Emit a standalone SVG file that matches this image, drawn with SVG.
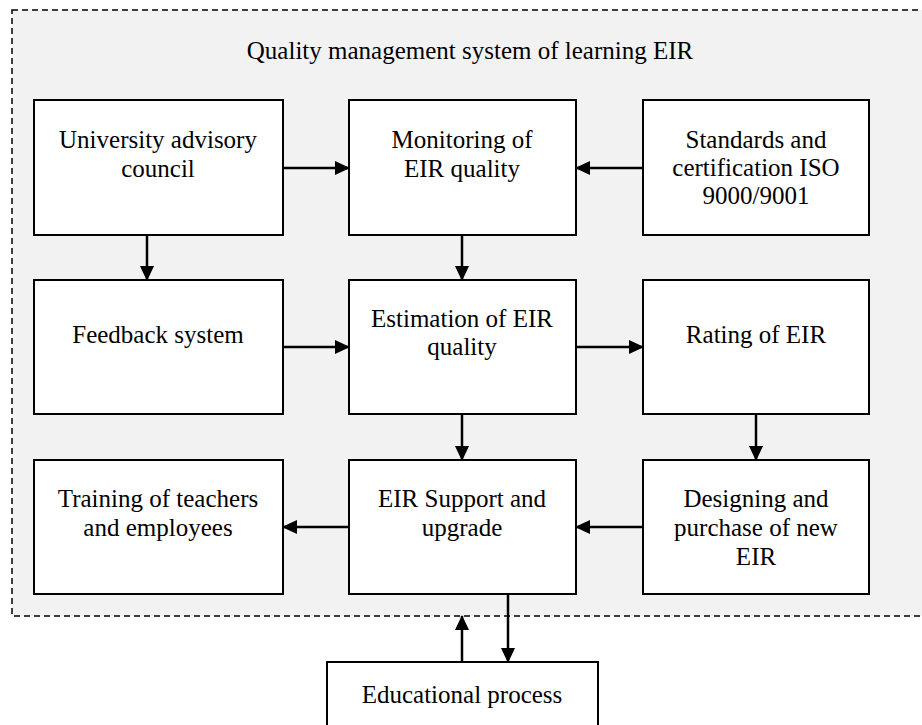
<svg xmlns="http://www.w3.org/2000/svg" width="922" height="725" viewBox="0 0 922 725">
<style>
text{font-family:'Times New Roman','Liberation Serif',Times,serif;font-size:25px;fill:#000;text-anchor:middle}
.box{fill:#fff;stroke:#000;stroke-width:2}
.c{stroke:#000;stroke-width:2.5;fill:none;marker-end:url(#ah)}
</style>
<defs>
<marker id="ah" markerUnits="userSpaceOnUse" markerWidth="15" markerHeight="14" refX="14" refY="7" orient="auto">
<path d="M0,0 L15,7 L0,14 Z" fill="#000"/>
</marker>
</defs>
<g id="container">
<rect x="12" y="10" width="916" height="606" fill="#f2f2f2" stroke="#000" stroke-width="1.5" stroke-dasharray="6,4"/>
<text x="470" y="59">Quality management system of learning EIR</text>
</g>
<g id="university"><rect class="box" x="34" y="100" width="249" height="135"/><text x="158" y="148">University advisory</text><text x="158" y="177">council</text></g>
<g id="monitoring"><rect class="box" x="349" y="100" width="227" height="135"/><text x="462" y="148">Monitoring of</text><text x="462" y="177">EIR quality</text></g>
<g id="standards"><rect class="box" x="643" y="100" width="226" height="135"/><text x="756" y="148">Standards and</text><text x="756" y="176">certification ISO</text><text x="756" y="204">9000/9001</text></g>
<g id="feedback"><rect class="box" x="34" y="280" width="249" height="134"/><text x="158" y="343">Feedback system</text></g>
<g id="estimation"><rect class="box" x="349" y="280" width="227" height="134"/><text x="462" y="327">Estimation of EIR</text><text x="462" y="355">quality</text></g>
<g id="rating"><rect class="box" x="643" y="280" width="226" height="134"/><text x="756" y="343">Rating of EIR</text></g>
<g id="training"><rect class="box" x="34" y="460" width="249" height="134"/><text x="158" y="507">Training of teachers</text><text x="158" y="536">and employees</text></g>
<g id="support"><rect class="box" x="349" y="460" width="227" height="134"/><text x="462" y="507">EIR Support and</text><text x="462" y="536">upgrade</text></g>
<g id="designing"><rect class="box" x="643" y="460" width="226" height="134"/><text x="756" y="507">Designing and</text><text x="756" y="536">purchase of new</text><text x="756" y="565">EIR</text></g>
<g id="educational"><rect class="box" x="327" y="662" width="271" height="70"/><text x="462" y="703">Educational process</text></g>
<g id="connectors">
<line class="c" x1="283" y1="168" x2="349" y2="168"/>
<line class="c" x1="643" y1="168" x2="576" y2="168"/>
<line class="c" x1="147" y1="235" x2="147" y2="280"/>
<line class="c" x1="462" y1="235" x2="462" y2="280"/>
<line class="c" x1="283" y1="347" x2="349" y2="347"/>
<line class="c" x1="576" y1="347" x2="643" y2="347"/>
<line class="c" x1="756" y1="414" x2="756" y2="460"/>
<line class="c" x1="462" y1="414" x2="462" y2="460"/>
<line class="c" x1="643" y1="527" x2="576" y2="527"/>
<line class="c" x1="349" y1="527" x2="283" y2="527"/>
<line class="c" x1="462" y1="662" x2="462" y2="616"/>
<line class="c" x1="508" y1="593" x2="508" y2="662"/>
</g>
</svg>
